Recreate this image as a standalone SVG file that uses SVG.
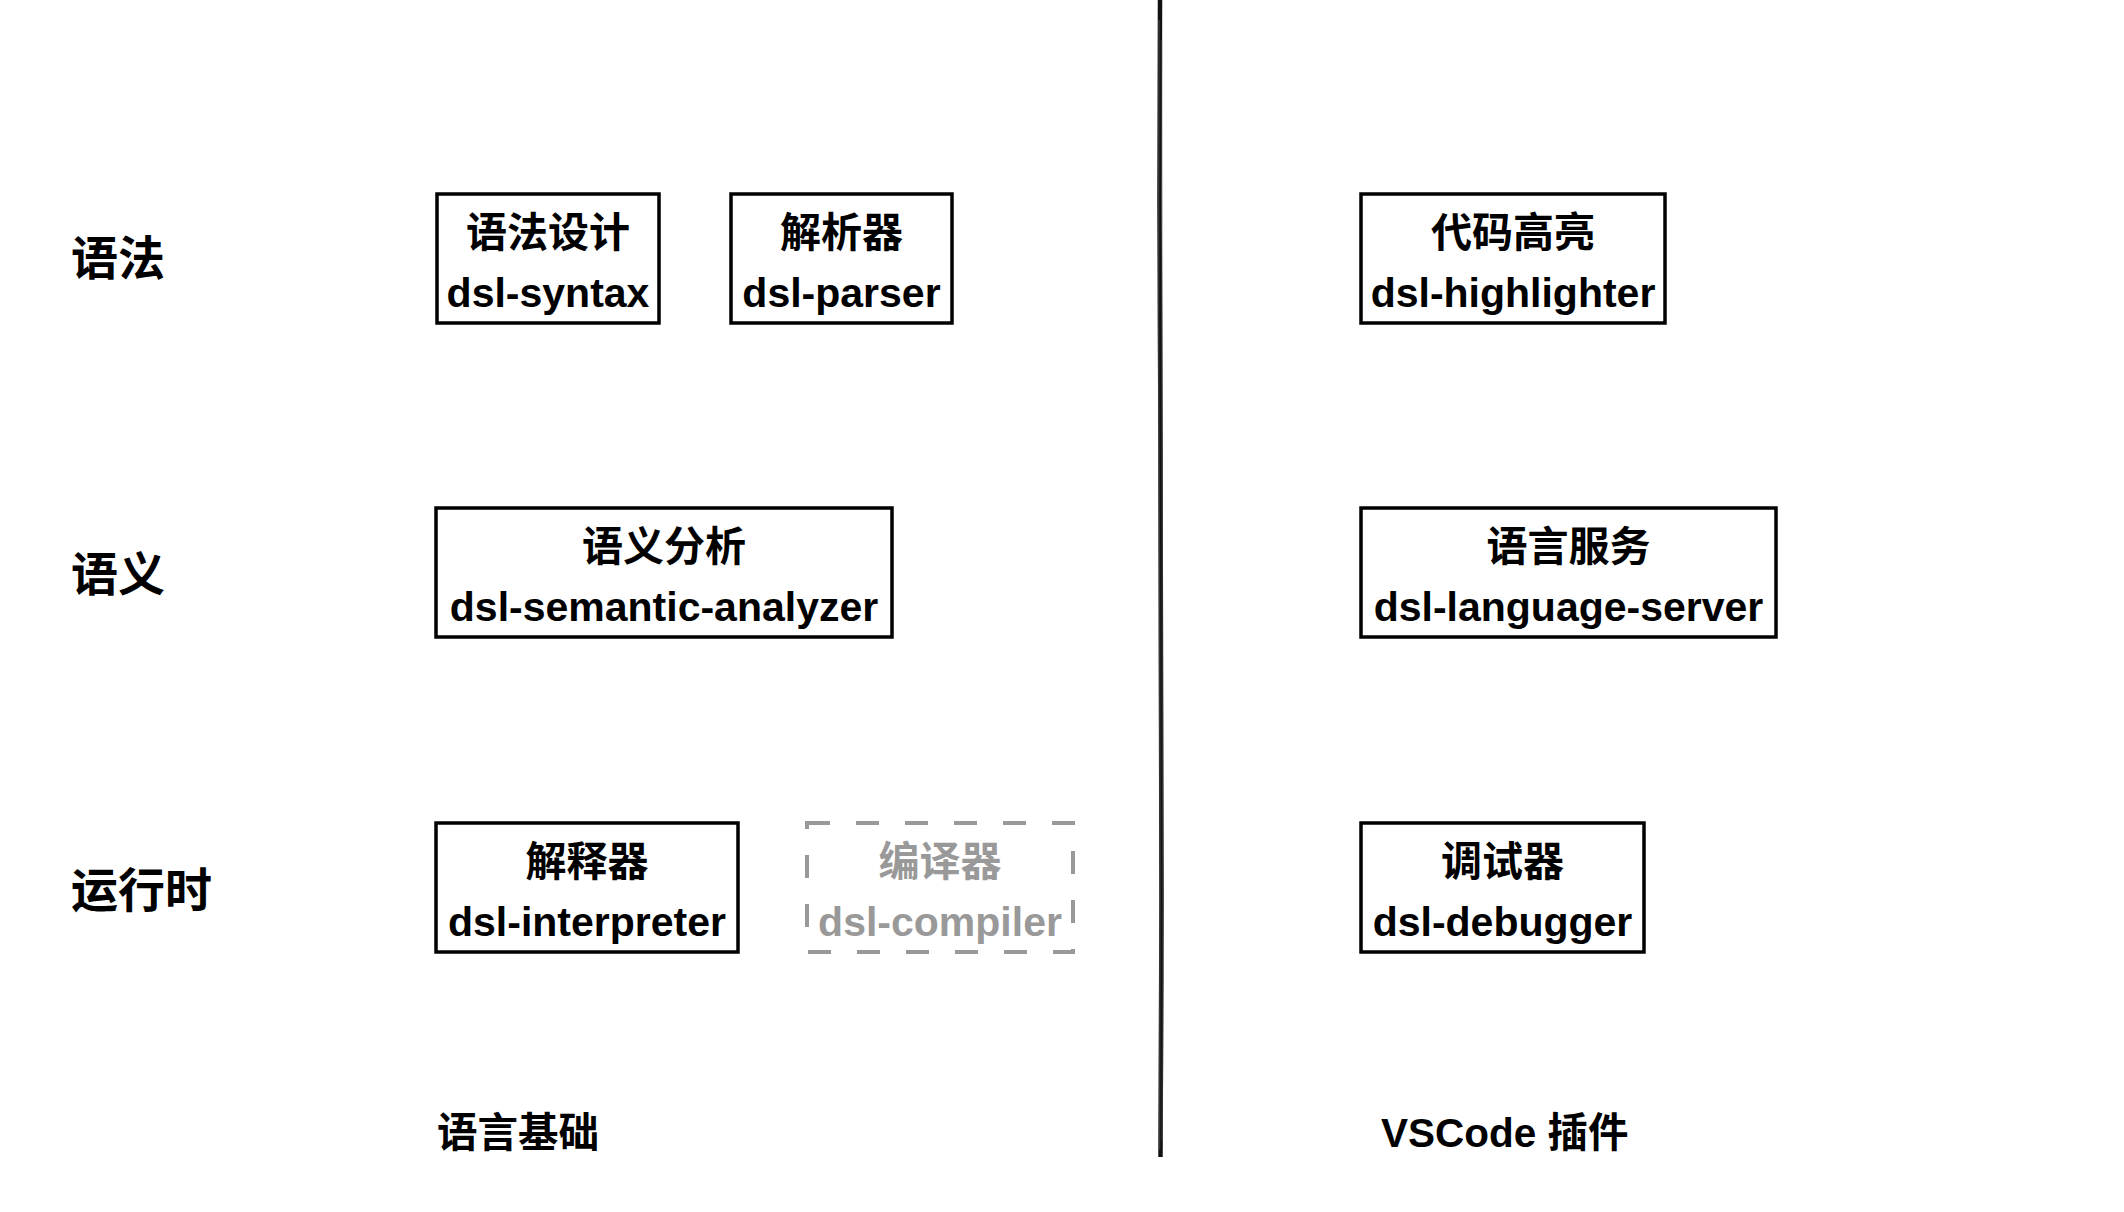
<svg xmlns="http://www.w3.org/2000/svg" width="2124" height="1212" viewBox="0 0 2124 1212">
<style>
  .box { fill: #ffffff; stroke: #000000; stroke-width: 3.5; }
  .dash { fill: #ffffff; stroke: #999999; stroke-width: 4; stroke-dasharray: 23 26; }
  .t { font-family: "Liberation Sans", "Noto Sans CJK SC", sans-serif; font-weight: 700; font-size: 41px; fill: #000000; text-anchor: middle; }
  .g { fill: #999999; }
  .row { font-family: "Noto Sans CJK SC", "Liberation Sans", sans-serif; font-weight: 700; font-size: 47px; fill: #000000; }
  .col { font-family: "Liberation Sans", "Noto Sans CJK SC", sans-serif; font-weight: 700; font-size: 40.5px; fill: #000000; }
</style>
<rect width="2124" height="1212" fill="#ffffff"/>

<g id="divider">
  <path d="M1160 0 L1159.5 200 L1160.5 450 L1161 700 L1161.5 900 L1160.5 1157" fill="none" stroke="#111111" stroke-width="4.5" stroke-linecap="butt"/>
  <path d="M1159 20 L1158.5 320 L1159.5 600 L1160 860 L1159.5 1150" fill="none" stroke="#444444" stroke-width="1.5" opacity="0.7"/>
  <path d="M1161.5 40 L1162 380 L1162.5 720 L1163 980 L1162 1140" fill="none" stroke="#444444" stroke-width="1.5" opacity="0.6"/>
</g>

<g id="row-labels">
  <text class="row" x="71" y="275">语法</text>
  <text class="row" x="71" y="591">语义</text>
  <text class="row" x="71" y="907">运行时</text>
</g>

<g id="column-labels">
  <text class="col" x="437" y="1147">语言基础</text>
  <text class="col" x="1381" y="1147">VSCode 插件</text>
</g>

<g id="node-syntax">
  <rect class="box" x="437" y="194" width="222" height="129"/>
  <text class="t" x="548" y="247">语法设计</text>
  <text class="t" x="548" y="307">dsl-syntax</text>
</g>

<g id="node-parser">
  <rect class="box" x="731" y="194" width="221" height="129"/>
  <text class="t" x="841.5" y="247">解析器</text>
  <text class="t" x="841.5" y="307">dsl-parser</text>
</g>

<g id="node-semantic-analyzer">
  <rect class="box" x="436" y="508" width="456" height="129"/>
  <text class="t" x="664" y="561">语义分析</text>
  <text class="t" x="664" y="621">dsl-semantic-analyzer</text>
</g>

<g id="node-interpreter">
  <rect class="box" x="436" y="823" width="302" height="129"/>
  <text class="t" x="587" y="876">解释器</text>
  <text class="t" x="587" y="936">dsl-interpreter</text>
</g>

<g id="node-compiler">
  <rect class="dash" x="807" y="823" width="266" height="129"/>
  <text class="t g" x="940" y="876">编译器</text>
  <text class="t g" x="940" y="936">dsl-compiler</text>
</g>

<g id="node-highlighter">
  <rect class="box" x="1361" y="194" width="304" height="129"/>
  <text class="t" x="1513" y="247">代码高亮</text>
  <text class="t" x="1513" y="307">dsl-highlighter</text>
</g>

<g id="node-language-server">
  <rect class="box" x="1361" y="508" width="415" height="129"/>
  <text class="t" x="1568.5" y="561">语言服务</text>
  <text class="t" x="1568.5" y="621">dsl-language-server</text>
</g>

<g id="node-debugger">
  <rect class="box" x="1361" y="823" width="283" height="129"/>
  <text class="t" x="1502.5" y="876">调试器</text>
  <text class="t" x="1502.5" y="936">dsl-debugger</text>
</g>

<g id="connectors"></g>
</svg>
